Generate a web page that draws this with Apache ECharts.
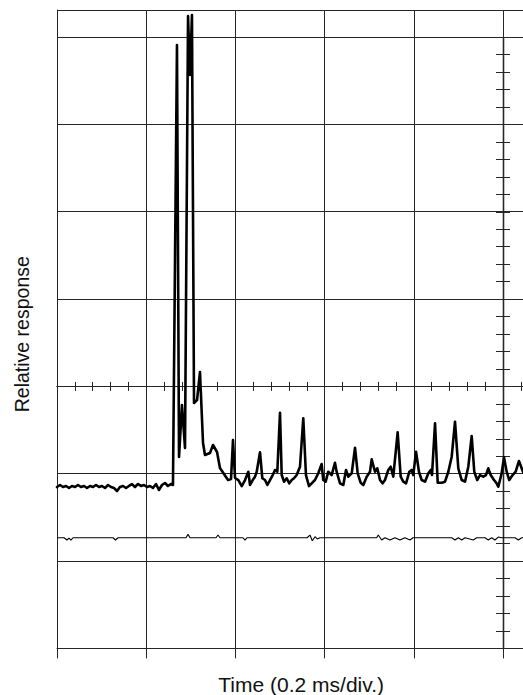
<!DOCTYPE html>
<html><head><meta charset="utf-8">
<script src="https://cdn.jsdelivr.net/npm/echarts@6/dist/echarts.min.js"></script>
<style>html,body{margin:0;padding:0;background:#fff}#c{width:523px;height:695px}</style>
</head><body><div id="c"></div>
<script>
// Axis titles
const xLabel = 'Time (0.2 ms/div.)';
const yLabel = 'Relative response';

// Main (thick) trace: time in divisions from left edge, response in divisions (0 = centre line)
const mainTime = [0.000,0.034,0.067,0.101,0.135,0.168,0.202,0.235,0.269,0.303,0.336,0.370,0.404,0.437,0.471,0.504,0.538,0.572,0.605,0.639,0.673,0.706,0.740,0.774,0.807,0.841,0.874,0.908,0.942,0.975,1.009,1.043,1.076,1.110,1.143,1.177,1.211,1.244,1.278,1.300,
1.345,1.368,1.401,1.435,1.469,1.491,1.513,1.536,1.570,1.603,1.637,1.659,1.715,1.749,1.794,1.827,1.872,1.917,1.951,1.973,1.996,
2.033,2.071,2.108,2.145,2.164,2.194,2.220,2.239,2.276,2.302,2.332,2.358,2.388,2.418,2.444,2.470,2.500,2.519,2.545,2.575,2.604,2.631,2.657,2.687,2.724,2.761,2.791,2.825,2.855,2.892,2.929,2.967,2.985,
3.012,3.041,3.079,3.116,3.135,3.173,3.210,3.240,3.266,3.304,3.341,3.371,3.404,3.434,3.472,3.509,3.528,3.565,3.591,3.621,3.651,3.677,3.714,3.741,3.770,3.819,3.853,3.882,3.913,3.950,3.976,3.994,
4.025,4.058,4.088,4.126,4.163,4.190,4.204,4.238,4.268,4.313,4.350,4.387,4.425,4.462,4.499,4.537,4.574,4.611,4.649,4.678,4.711,4.742,4.779,4.809,4.835,4.862,4.899,4.929,4.947,4.985,
5.011,5.041,5.070,5.108,5.142,5.179,5.224,5.269];
const mainResp = [-1.152,-1.129,-1.152,-1.140,-1.163,-1.140,-1.152,-1.129,-1.152,-1.140,-1.163,-1.140,-1.152,-1.129,-1.152,-1.140,-1.163,-1.129,-1.152,-1.163,-1.198,-1.152,-1.140,-1.163,-1.140,-1.118,-1.152,-1.118,-1.140,-1.129,-1.152,-1.140,-1.163,-1.118,-1.186,-1.129,-1.106,-1.140,-1.118,-1.129,
3.909,-0.808,-0.213,-0.705,4.242,3.566,4.253,-0.190,-0.156,0.165,-0.648,-0.786,-0.763,-0.671,-0.751,-0.934,-1.003,-1.072,-1.060,-0.614,-1.049,
-1.072,-1.141,-1.072,-0.977,-1.129,-1.072,-1.034,-0.977,-0.755,-1.052,-1.072,-1.129,-1.072,-1.015,-0.957,-0.977,-0.301,-1.015,-1.091,-1.052,-1.110,-1.072,-1.052,-1.015,-0.920,-0.365,-1.015,-1.141,-1.110,-1.072,-0.995,-0.889,-1.072,
-1.091,-0.977,-1.015,-0.874,-0.977,-1.110,-1.129,-0.957,-1.034,-0.995,-0.702,-0.995,-1.103,-1.129,-1.034,-0.977,-0.835,-0.977,-0.938,-1.072,-1.110,-1.072,-0.957,-0.920,-1.034,-0.526,-1.034,-1.091,-1.110,-0.977,-0.957,-1.015,
-0.748,-0.977,-1.072,-1.091,-0.995,-0.957,-1.015,-0.423,-1.103,-1.103,-1.091,-0.977,-0.805,-0.404,-0.938,-1.072,-1.091,-0.920,-0.568,-0.977,-1.072,-1.015,-1.034,-1.015,-0.938,-1.015,-1.072,-1.110,-1.149,-0.995,
-0.812,-0.977,-1.072,-1.015,-0.977,-0.854,-0.977,-1.049];

// Reference (thin) trace
const refTime = [0.000,0.078,0.112,0.135,0.157,0.179,0.628,0.656,0.684,1.446,1.469,1.491,1.783,1.805,1.827,2.085,2.108,2.130,2.803,2.836,2.862,2.892,2.918,2.948,3.584,3.602,3.640,3.677,3.733,3.789,3.845,3.901,3.957,3.991,4.425,4.462,4.499,4.537,4.574,4.667,4.705,4.798,4.835,4.873,4.910,4.947,4.985,5.135,5.172,5.210,5.303];
const refResp = [-1.733,-1.733,-1.759,-1.737,-1.759,-1.733,-1.733,-1.759,-1.733,-1.733,-1.694,-1.733,-1.733,-1.702,-1.733,-1.733,-1.759,-1.733,-1.733,-1.702,-1.767,-1.721,-1.747,-1.733,-1.733,-1.702,-1.759,-1.733,-1.759,-1.733,-1.759,-1.733,-1.759,-1.733,-1.733,-1.759,-1.733,-1.759,-1.733,-1.759,-1.733,-1.733,-1.759,-1.733,-1.759,-1.725,-1.733,-1.733,-1.759,-1.733,-1.733];

const lineCol = '#262626';
const font = 'Liberation Sans, Arial, Helvetica, sans-serif';
const hidden = {axisLine:{show:false}, axisTick:{show:false}, axisLabel:{show:false}, splitLine:{show:false}};

function centerX(inside){
  return {gridIndex:1, type:'value', min:0, max:5.25, interval:0.2, position:'bottom',
    axisLine:{show:true, onZero:true, onZeroAxisIndex:1, lineStyle:{color:lineCol,width:1}},
    axisTick:{show:true, inside:inside, length:4.5, lineStyle:{color:lineCol,width:1}},
    axisLabel:{show:false}, splitLine:{show:false}};
}
function centerY(inside){
  return {gridIndex:1, type:'value', min:-3, max:4, interval:0.2, position:'left',
    axisLine:{show:true, onZero:true, onZeroAxisIndex:1, lineStyle:{color:lineCol,width:1.3}},
    axisTick:{show:true, inside:inside, length:7, lineStyle:{color:lineCol,width:1}},
    axisLabel:{show:false}, splitLine:{show:false}};
}

const chart = echarts.init(document.getElementById('c'), null, {renderer:'svg'});
chart.setOption({
  animation:false,
  backgroundColor:'#fff',
  grid:[
    {left:57, top:10, width:468.3, height:638.4, containLabel:false, outerBoundsMode:'none'},
    {left:57, top:37.1, width:468.3, height:611.3, containLabel:false, outerBoundsMode:'none'}
  ],
  xAxis:[
    {gridIndex:0, type:'value', min:0, max:5.25, interval:1, position:'bottom',
     axisLine:{show:true, onZero:false, lineStyle:{color:lineCol,width:1}},
     axisTick:{show:true, length:10, lineStyle:{color:lineCol,width:1}},
     axisLabel:{show:false},
     splitLine:{show:true, lineStyle:{color:lineCol,width:1}},
     name:xLabel, nameLocation:'middle', nameGap:25.5,
     nameTextStyle:{fontSize:21, color:'#111', fontFamily:font, padding:[0,0,0,20]}},
    Object.assign({gridIndex:1, type:'value', min:-5, max:0.25}, hidden),
    centerX(false),
    centerX(true)
  ],
  yAxis:[
    {gridIndex:0, type:'value', min:-3, max:4.31, interval:1, position:'left',
     axisLine:{show:true, onZero:false, lineStyle:{color:lineCol,width:1}},
     axisTick:{show:false}, axisLabel:{show:false},
     splitLine:{show:true, lineStyle:{color:lineCol,width:1}},
     name:yLabel, nameLocation:'middle', nameGap:25,
     nameTextStyle:{fontSize:19.5, color:'#111', fontFamily:font, padding:[0,10,0,0]}},
    centerY(false),
    centerY(true)
  ],
  series:[
    {type:'line', xAxisIndex:0, yAxisIndex:0, data:mainTime.map((t,i)=>[t, mainResp[i]]),
     showSymbol:false, symbol:'none', clip:true, z:5,
     lineStyle:{color:'#000', width:2.6, join:'round', cap:'round'}},
    {type:'line', xAxisIndex:0, yAxisIndex:0, data:refTime.map((t,i)=>[t, refResp[i]]),
     showSymbol:false, symbol:'none', clip:true, z:4,
     lineStyle:{color:'#000', width:1.1}}
  ]
});
</script></body></html>
